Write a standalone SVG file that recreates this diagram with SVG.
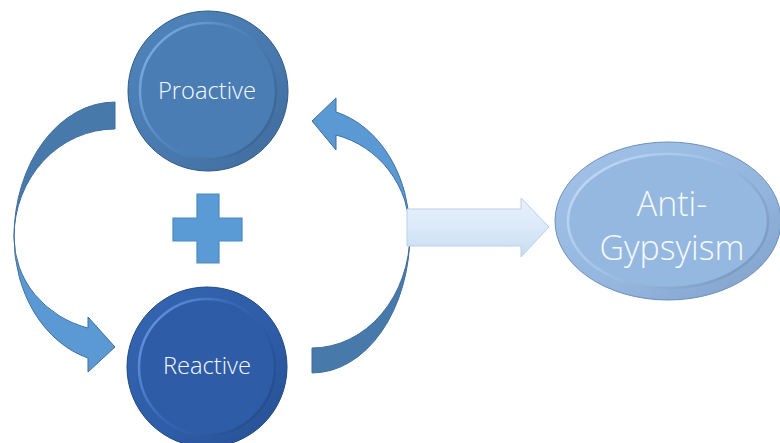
<svg xmlns="http://www.w3.org/2000/svg" width="780" height="443" viewBox="0 0 780 443">
<defs>
<style>
.lbl{font-family:"Open Sans","Noto Sans","Liberation Sans",sans-serif;font-weight:300;fill:#f7f9fd;text-anchor:middle}
.band-dark{fill:#4879ab;stroke:#3f6f9f;stroke-width:1}
.band-light{fill:#5a99d4;stroke:#41719c;stroke-width:1}
</style>
<linearGradient id="rimP" x1="0" y1="0" x2="1" y2="1">
<stop offset="0" stop-color="#4f85bd"/><stop offset="0.6" stop-color="#4878ad"/><stop offset="1" stop-color="#3f6b9c"/>
</linearGradient>
<linearGradient id="hiP" x1="0" y1="0" x2="1" y2="0.6">
<stop offset="0" stop-color="#86b8e8"/><stop offset="0.5" stop-color="#5288c0"/><stop offset="1" stop-color="#3c6898"/>
</linearGradient>
<linearGradient id="rimR" x1="0" y1="0" x2="1" y2="1">
<stop offset="0" stop-color="#3566b2"/><stop offset="0.6" stop-color="#2e5ca6"/><stop offset="1" stop-color="#264f92"/>
</linearGradient>
<linearGradient id="hiR" x1="0" y1="0" x2="1" y2="0.6">
<stop offset="0" stop-color="#759fe6"/><stop offset="0.5" stop-color="#3868b6"/><stop offset="1" stop-color="#264f92"/>
</linearGradient>
<linearGradient id="rimA" x1="0" y1="0" x2="1" y2="1">
<stop offset="0" stop-color="#a3c3e8"/><stop offset="0.6" stop-color="#93b5de"/><stop offset="1" stop-color="#7f9fc8"/>
</linearGradient>
<linearGradient id="hiA" x1="0" y1="0" x2="1" y2="0.6">
<stop offset="0" stop-color="#c8dff6"/><stop offset="0.5" stop-color="#a2c2e8"/><stop offset="1" stop-color="#7d9cc4"/>
</linearGradient>
<linearGradient id="arrowFill" x1="0" y1="0" x2="0" y2="1">
<stop offset="0" stop-color="#e8f1fb"/><stop offset="0.5" stop-color="#dbe9f8"/><stop offset="1" stop-color="#c6dcf2"/>
</linearGradient>
</defs>
<rect width="780" height="443" fill="#ffffff"/>

<g id="connectors">
<path class="band-dark" d="M115,102 A101,135 0 0 0 14,237 A101,108 0 0 1 115,129 Z"/>
<path class="band-light" d="M14,237 A101,125.6 0 0 0 88,358 L88,372 L115,347 L88,317 L88,328 A101,94.4 0 0 1 14,237 Z"/>
<path class="band-light" d="M410,233 A98,124.8 0 0 0 336,112 L336,98 L312,121 L336,150 L336,135 A98,101.1 0 0 1 410,233 Z"/>
<path class="band-dark" d="M410,233 A98,140 0 0 1 312,373 L312,348 A98,115 0 0 0 410,233 Z"/>
<polygon points="407,209 521,209 521,198 549,227 521,257 521,246 407,246" fill="url(#arrowFill)" stroke="#b9d0e9" stroke-width="1"/>
</g>

<g id="plus">
<polygon points="197,194 219,194 219,218 242,218 242,241 219,241 219,263 197,263 197,241 173,241 173,218 197,218" fill="#5b9bd5" stroke="#4d89c2" stroke-width="1.2"/>
</g>

<g id="proactive">
<circle cx="208" cy="91" r="80" fill="url(#rimP)" stroke="#2f5a88" stroke-width="1"/>
<circle cx="208" cy="91" r="68" fill="#4a7db4" stroke="url(#hiP)" stroke-width="2.5"/>
<text class="lbl" x="207" y="99" font-size="23" textLength="98" lengthAdjust="spacingAndGlyphs">Proactive</text>
</g>

<g id="reactive">
<circle cx="207" cy="367" r="80" fill="url(#rimR)" stroke="#1f4680" stroke-width="1"/>
<circle cx="207" cy="367" r="68" fill="#2f5ca6" stroke="url(#hiR)" stroke-width="2.5"/>
<text class="lbl" x="207" y="374" font-size="23" textLength="88" lengthAdjust="spacingAndGlyphs">Reactive</text>
</g>

<g id="antigypsyism">
<ellipse cx="668" cy="221" rx="113" ry="79" fill="url(#rimA)" stroke="#6f8fba" stroke-width="1"/>
<ellipse cx="668" cy="221" rx="100" ry="67" fill="#95b8e0" stroke="url(#hiA)" stroke-width="2.5"/>
<text class="lbl" x="672" y="216" font-size="34">Anti-</text>
<text class="lbl" x="672" y="260" font-size="34" textLength="145" lengthAdjust="spacingAndGlyphs">Gypsyism</text>
</g>
</svg>
